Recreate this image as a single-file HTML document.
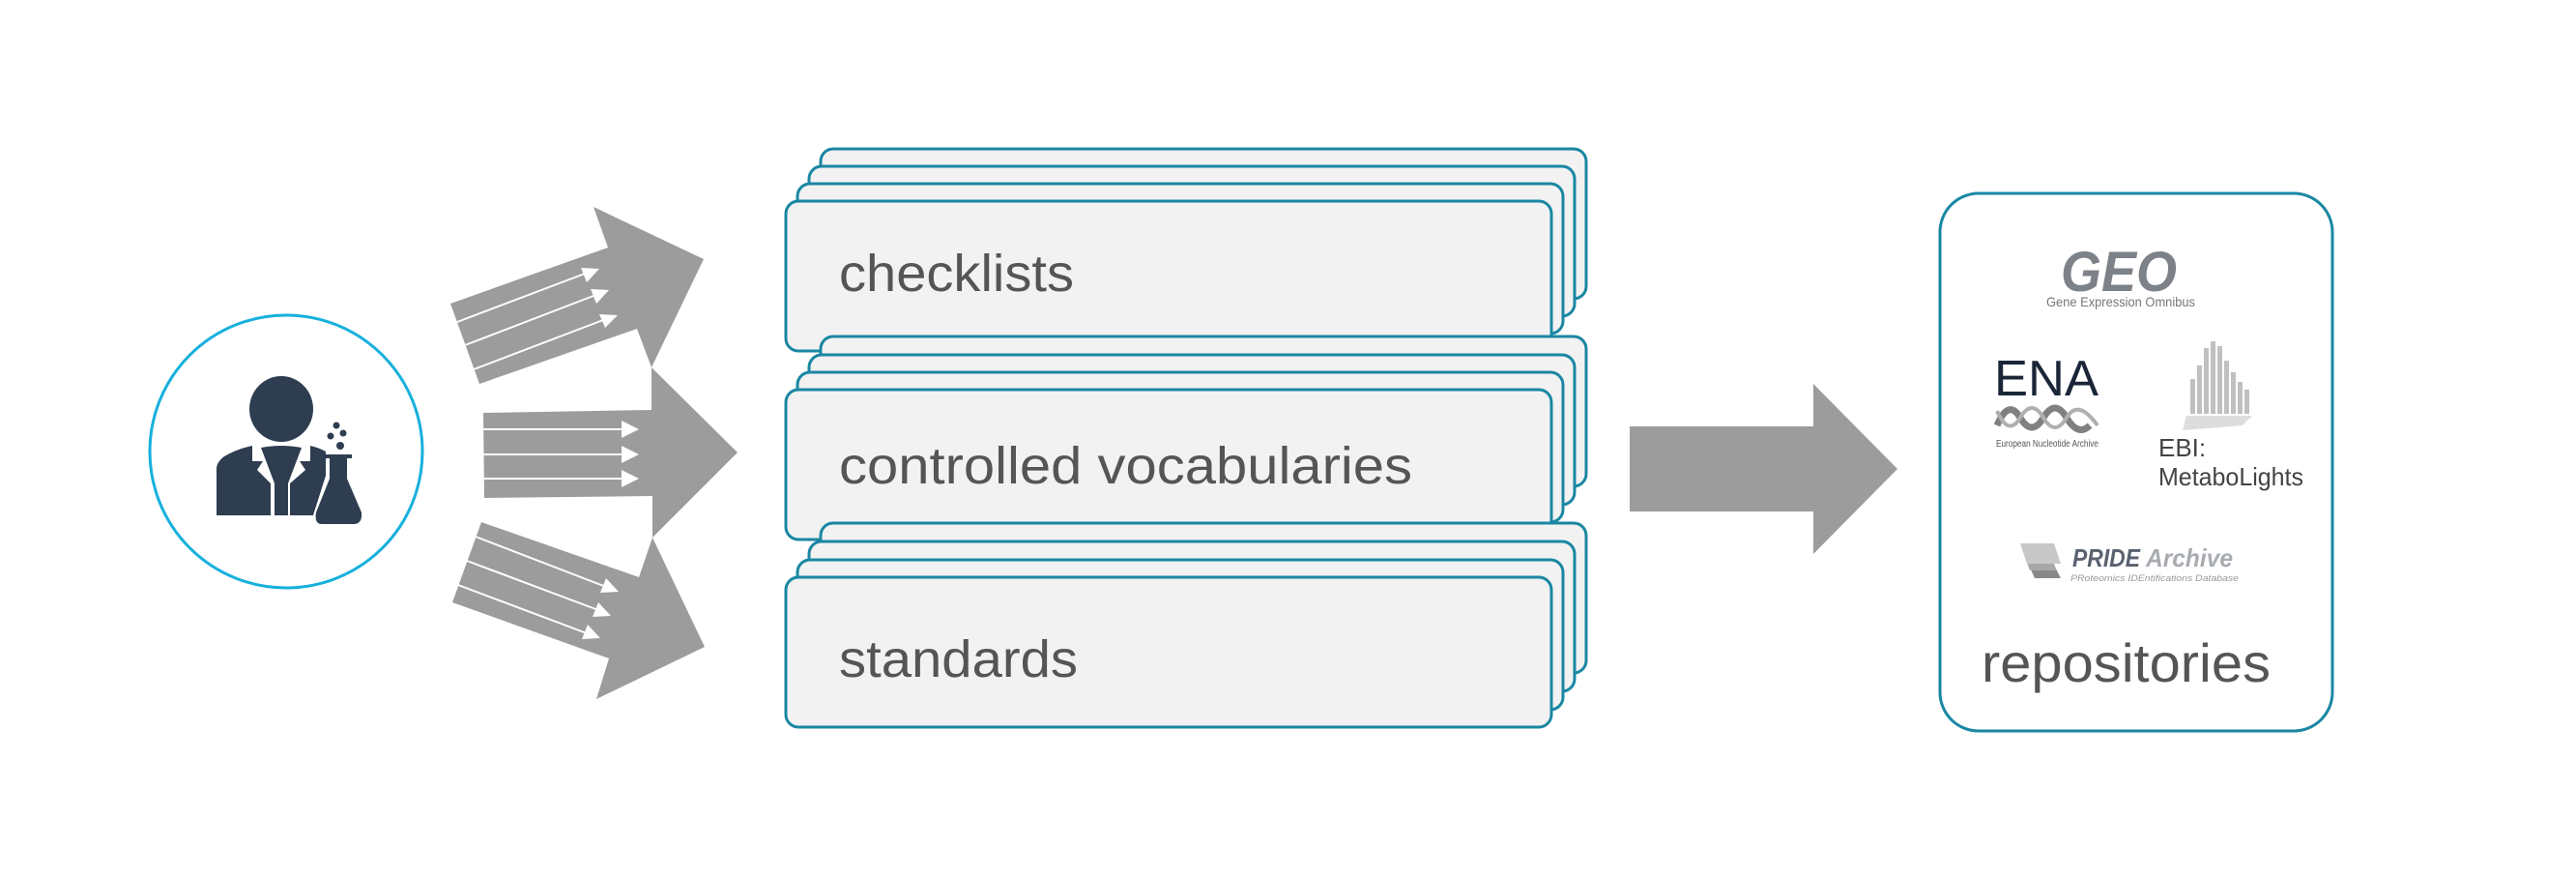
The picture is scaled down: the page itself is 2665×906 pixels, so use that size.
<!DOCTYPE html>
<html><head><meta charset="utf-8"><style>
html,body{margin:0;padding:0;background:#fff;}
svg{display:block;}
</style></head><body>
<svg width="2665" height="906" viewBox="0 0 2665 906" xmlns="http://www.w3.org/2000/svg">
<rect width="2665" height="906" fill="#fff"/>
<circle cx="296" cy="467" r="141" fill="#fff" stroke="#17b0dd" stroke-width="3"/>
<g fill="#2e3e50">
<ellipse cx="291" cy="423" rx="33" ry="34"/>
<path d="M224 533 V485 Q224 478 232 472 Q246 464 261 461 V477 L272 477 L266 486 L280 500 V533 Z"/>
<path d="M270 463 Q291 459 312 463 L298 500 V533 H284 V500 Z"/>
<path d="M321 461 Q330 463 337 467 V492 L324 533 H300 V500 L316 486 L310 477 L321 477 Z"/>
<path d="M337 470 H364 V474 H359 V495 L374 530 Q375 542 366 542 H333 Q325 542 327 530 L341 495 V474 H337 Z"/>
<circle cx="348" cy="440" r="3.5"/><circle cx="342" cy="451" r="3.5"/><circle cx="355" cy="448" r="3.5"/><circle cx="352" cy="461" r="4"/>
</g>
<g fill="#9c9c9c">
<polygon points="466,314 629,256 614,214 728,268 674,380 659,340 496,397"/>
<polygon points="500,427 674,424 674,380 763,468 675,556 675,513 501,515"/>
<polygon points="498,540 661,597 675,556 729,669 617,723 630,681 468,623"/>
</g>
<g stroke="#fff" stroke-width="2" fill="#fff">
<line x1="473" y1="333" x2="605" y2="283"/><polygon points="620,278 601,277 607,292" stroke="none"/>
<line x1="481" y1="357" x2="614" y2="306"/><polygon points="630,300 611,299 617,314" stroke="none"/>
<line x1="490" y1="382" x2="624" y2="331"/><polygon points="639,326 620,325 626,339" stroke="none"/>
<line x1="500" y1="444" x2="645" y2="444"/><polygon points="661,444 643,435 643,453" stroke="none"/>
<line x1="500" y1="470" x2="645" y2="470"/><polygon points="661,470 643,461 643,479" stroke="none"/>
<line x1="500" y1="495" x2="645" y2="495"/><polygon points="661,495 643,486 643,504" stroke="none"/>
<line x1="492" y1="555" x2="627" y2="607"/><polygon points="640,612 627,598 621,613" stroke="none"/>
<line x1="483" y1="580" x2="619" y2="631"/><polygon points="632,637 619,623 613,638" stroke="none"/>
<line x1="474" y1="605" x2="607" y2="655"/><polygon points="621,660 608,646 602,661" stroke="none"/>
</g>
<g fill="#f2f2f2" stroke="#1a87a3" stroke-width="3">
<rect x="849" y="154" width="792" height="155" rx="13"/>
<rect x="837" y="172" width="792" height="155" rx="13"/>
<rect x="825" y="190" width="792" height="155" rx="13"/>
<rect x="813" y="208" width="792" height="155" rx="13"/>
<rect x="849" y="348" width="792" height="155" rx="13"/>
<rect x="837" y="367" width="792" height="155" rx="13"/>
<rect x="825" y="385" width="792" height="155" rx="13"/>
<rect x="813" y="403" width="792" height="155" rx="13"/>
<rect x="849" y="541" width="792" height="155" rx="13"/>
<rect x="837" y="560" width="792" height="155" rx="13"/>
<rect x="825" y="579" width="792" height="155" rx="13"/>
<rect x="813" y="597" width="792" height="155" rx="13"/>
</g>
<g fill="#555" font-family="Liberation Sans, sans-serif" font-size="54">
<text x="868" y="301" textLength="243" lengthAdjust="spacingAndGlyphs">checklists</text>
<text x="868" y="500" textLength="593" lengthAdjust="spacingAndGlyphs">controlled vocabularies</text>
<text x="868" y="700" textLength="247" lengthAdjust="spacingAndGlyphs">standards</text>
</g>
<polygon points="1686,441 1876,441 1876,397 1963,485 1876,573 1876,529 1686,529" fill="#9c9c9c"/>
<rect x="2007" y="200" width="406" height="556" rx="40" fill="#fff" stroke="#1a87a3" stroke-width="3"/>
<text x="2132" y="301" font-family="Liberation Sans, sans-serif" font-size="58" font-weight="bold" font-style="italic" fill="#7d8288" textLength="120" lengthAdjust="spacingAndGlyphs">GEO</text>
<text x="2117" y="317" font-family="Liberation Sans, sans-serif" font-size="14" fill="#777" textLength="154" lengthAdjust="spacingAndGlyphs">Gene Expression Omnibus</text>
<text x="2063" y="409" font-family="Liberation Sans, sans-serif" font-size="52" fill="#1a2638" textLength="108" lengthAdjust="spacingAndGlyphs">ENA</text>
<path d="M2066 440 Q2078 412 2090 432 T2114 432 T2138 432 T2162 440" fill="none" stroke="#808080" stroke-width="7"/>
<path d="M2066 425 Q2078 452 2090 432 T2114 432 T2138 432 T2170 440" fill="none" stroke="#b0b0b0" stroke-width="4"/>
<text x="2065" y="462" font-family="Liberation Sans, sans-serif" font-size="10" fill="#555" textLength="106" lengthAdjust="spacingAndGlyphs">European Nucleotide Archive</text>
<g fill="#c0c0c0">
<rect x="2266" y="392" width="5" height="36"/><rect x="2273" y="378" width="5" height="50"/>
<rect x="2280" y="360" width="5" height="68"/><rect x="2287" y="353" width="5" height="75"/>
<rect x="2294" y="358" width="5" height="70"/><rect x="2301" y="373" width="5" height="55"/>
<rect x="2308" y="385" width="5" height="43"/><rect x="2315" y="395" width="5" height="33"/>
<rect x="2322" y="403" width="5" height="25"/>
<polygon points="2262,430 2330,430 2320,440 2258,445" fill="#ddd"/>
</g>
<text x="2233" y="472" font-family="Liberation Sans, sans-serif" font-size="26" fill="#444">EBI:</text>
<text x="2233" y="502" font-family="Liberation Sans, sans-serif" font-size="26" fill="#444" textLength="150" lengthAdjust="spacingAndGlyphs">MetaboLights</text>
<polygon points="2095,575 2120,575 2132,598 2105,598" fill="#888"/>
<polygon points="2092,568 2118,568 2128,590 2100,590" fill="#a8a8a8"/>
<polygon points="2090,562 2125,562 2132,583 2097,583" fill="#c8c8c8"/>
<text x="2144" y="586" font-family="Liberation Sans, sans-serif" font-size="26" font-weight="bold" font-style="italic" fill="#5a6270" textLength="70" lengthAdjust="spacingAndGlyphs">PRIDE</text>
<text x="2220" y="586" font-family="Liberation Sans, sans-serif" font-size="26" font-weight="bold" font-style="italic" fill="#a8acb0" textLength="90" lengthAdjust="spacingAndGlyphs">Archive</text>
<text x="2142" y="601" font-family="Liberation Sans, sans-serif" font-size="9" font-style="italic" fill="#999" textLength="174" lengthAdjust="spacingAndGlyphs">PRoteomics IDEntifications Database</text>
<text x="2050" y="705" font-family="Liberation Sans, sans-serif" font-size="56" fill="#555" textLength="299" lengthAdjust="spacingAndGlyphs">repositories</text>
</svg>
</body></html>
